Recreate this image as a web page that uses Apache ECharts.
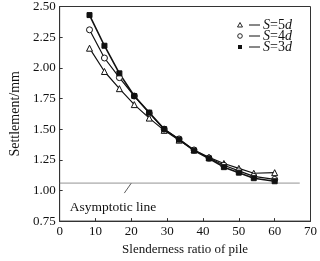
<!DOCTYPE html>
<html><head><meta charset="utf-8">
<script src="https://cdn.jsdelivr.net/npm/echarts@6/dist/echarts.min.js"></script>
<style>html,body{margin:0;padding:0;background:#fff}#c{width:320px;height:261px}</style>
</head><body><div id="c"></div>
<script>
var slenderness = [8.33,12.5,16.67,20.83,25,29.17,33.33,37.5,41.67,45.83,50,54.17,60];
var s5d = [2.16,1.97,1.83,1.70,1.59,1.49,1.41,1.33,1.27,1.22,1.18,1.14,1.145];
var s4d = [2.31,2.08,1.92,1.77,1.63,1.50,1.42,1.33,1.265,1.205,1.16,1.115,1.09];
var s3d = [2.43,2.18,1.955,1.77,1.635,1.50,1.415,1.325,1.26,1.19,1.145,1.10,1.075];
var asymptoteValue = 1.06;
var asymptoteX = [0, 67];
var seriesNames = ['S=5d','S=4d','S=3d'];
var xTicks = [0,10,20,30,40,50,60,70];
var yTicks = [0.75,1.00,1.25,1.50,1.75,2.00,2.25,2.50];

var font = 'Liberation Serif, Times New Roman, serif';
function pairs(xs, ys){ return xs.map(function(x,i){return [x, ys[i]];}); }
var chart = echarts.init(document.getElementById('c'));
var lineCol = '#111';
function mk(name, data, symbol, fill, size, width){
  return {name:name, type:'line', data:pairs(slenderness,data), symbol:symbol, symbolSize:size,
    lineStyle:{color:lineCol,width:width}, itemStyle:{color:fill,borderColor:lineCol,borderWidth:1},
    animation:false, z:3};
}
chart.setOption({
  animation:false,
  grid:{left:42,right:5,top:5,bottom:35,show:true,borderColor:'#333',borderWidth:1},
  xAxis:{type:'value',min:xTicks[0],max:xTicks[xTicks.length-1],interval:10,
    name:'Slenderness ratio of pile',nameLocation:'middle',nameGap:20,
    nameTextStyle:{fontFamily:font,fontSize:13,color:'#111'},
    axisLine:{lineStyle:{color:'#333'}},axisTick:{inside:true,length:3,lineStyle:{color:'#333'}},
    axisLabel:{fontFamily:font,fontSize:13,color:'#111',margin:4},splitLine:{show:false}},
  yAxis:{type:'value',min:yTicks[0],max:yTicks[yTicks.length-1],interval:0.25,
    name:'Settlement/mm',nameLocation:'middle',nameGap:30,
    nameTextStyle:{fontFamily:font,fontSize:14,color:'#111'},
    axisLine:{lineStyle:{color:'#333'}},axisTick:{inside:true,length:3,lineStyle:{color:'#333'}},
    axisLabel:{fontFamily:font,fontSize:13,color:'#111',margin:4,formatter:function(v){return v.toFixed(2);}},
    splitLine:{show:false}},
  series:[
    mk(seriesNames[0], s5d, 'triangle', '#fff', 6, 1.2),
    mk(seriesNames[1], s4d, 'circle', '#fff', 6, 1.2),
    mk(seriesNames[2], s3d, 'rect', '#111', 5, 1.6),
    {name:'Asymptotic line', type:'line', data:asymptoteX.map(function(x){return [x, asymptoteValue];}),
     symbol:'none', lineStyle:{color:'#777',width:0.8}, silent:true, z:2}
  ]
});

// annotation and legend
var a = chart.convertToPixel({gridIndex:0},[20, asymptoteValue]);
var g = [];
g.push({type:'line', shape:{x1:a[0], y1:a[1], x2:a[0]-7, y2:a[1]+10}, style:{stroke:'#333',lineWidth:0.8}});
g.push({type:'text', x:113, y:207, style:{text:'Asymptotic line', font:'13.5px '+font, fill:'#111', align:'center', verticalAlign:'middle'}});
var legY = [25, 36, 47];
var syms = [
  {type:'polygon', shape:{points:[[240,legY[0]-2.5],[237.5,legY[0]+2],[242.5,legY[0]+2]]}, style:{fill:'#fff',stroke:'#111',lineWidth:0.9}},
  {type:'circle', shape:{cx:240, cy:legY[1], r:2.3}, style:{fill:'#fff',stroke:'#111',lineWidth:0.9}},
  {type:'rect', shape:{x:238, y:legY[2]-2, width:4, height:4}, style:{fill:'#111'}}
];
var rich = {i:{fontFamily:font,fontSize:14,fontStyle:'italic',fill:'#111'}, n:{fontFamily:font,fontSize:14,fill:'#111'}};
var nums = ['5','4','3'];
for (var k=0;k<3;k++){
  g.push(syms[k]);
  g.push({type:'line', shape:{x1:249,y1:legY[k],x2:260,y2:legY[k]}, style:{stroke:'#111',lineWidth:1}});
  g.push({type:'text', x:263, y:legY[k], style:{rich:rich, text:'{i|S}{n|='+nums[k]+'}{i|d}', verticalAlign:'middle'}});
}
chart.setOption({graphic:g});
</script></body></html>
